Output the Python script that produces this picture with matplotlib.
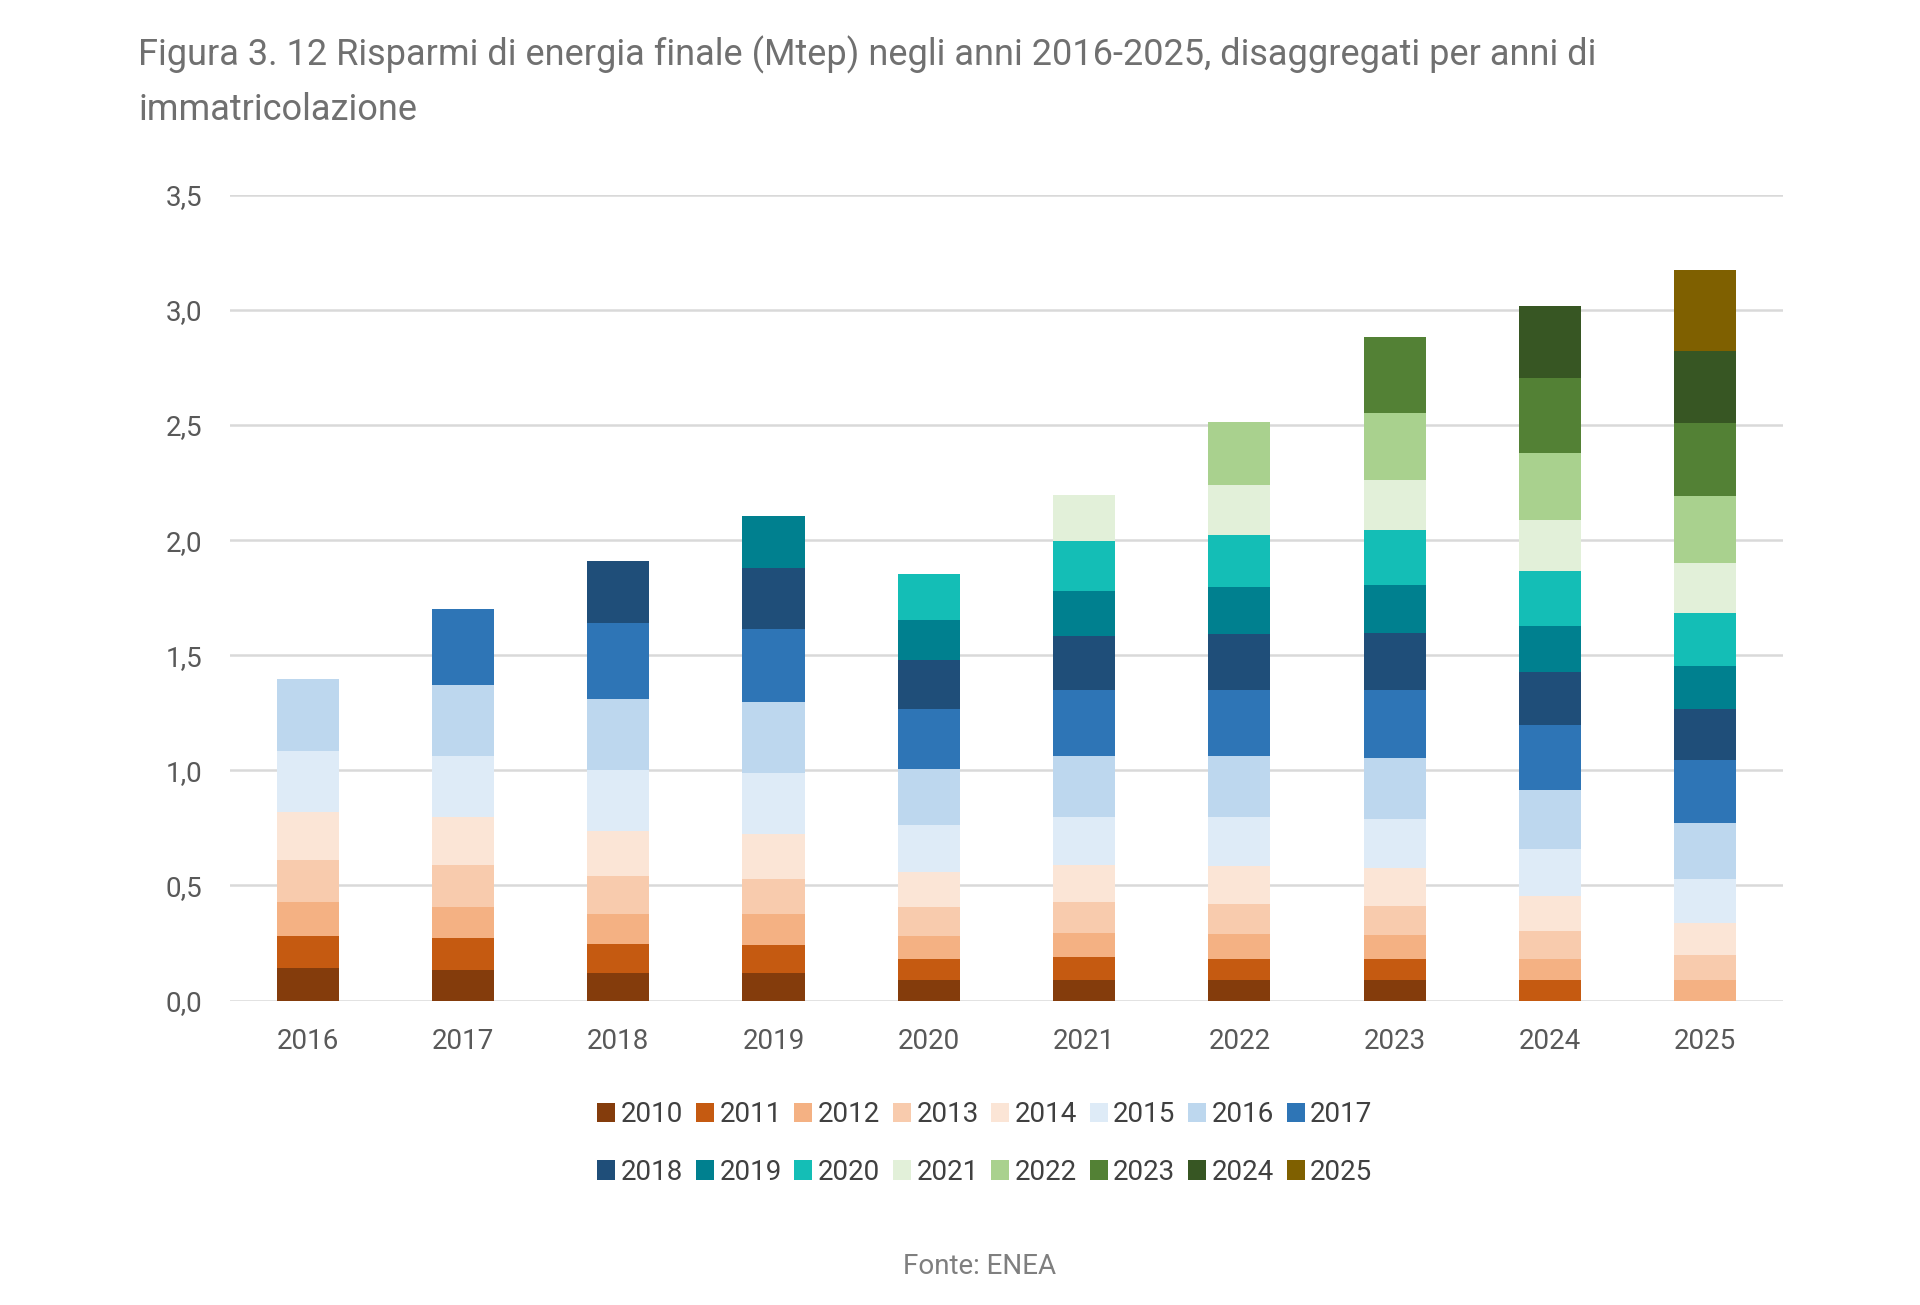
import numpy as np
import matplotlib.pyplot as plt

plt.rcParams['font.family'] = ['Roboto', 'DejaVu Sans']

# Years of savings (x axis)
years = ['2016', '2017', '2018', '2019', '2020', '2021', '2022', '2023', '2024', '2025']

# Savings (Mtep) by registration year, one list per cohort
v2010 = [0.140, 0.133, 0.121, 0.118, 0.089, 0.089, 0.089, 0.089, 0.0, 0.0]
v2011 = [0.142, 0.137, 0.123, 0.123, 0.092, 0.102, 0.092, 0.092, 0.089, 0.0]
v2012 = [0.148, 0.138, 0.130, 0.133, 0.101, 0.101, 0.109, 0.104, 0.092, 0.089]
v2013 = [0.181, 0.179, 0.167, 0.155, 0.124, 0.135, 0.128, 0.125, 0.121, 0.109]
v2014 = [0.207, 0.210, 0.195, 0.195, 0.152, 0.160, 0.166, 0.167, 0.150, 0.138]
v2015 = [0.266, 0.263, 0.264, 0.263, 0.203, 0.212, 0.213, 0.212, 0.205, 0.193]
v2016 = [0.311, 0.311, 0.311, 0.309, 0.246, 0.261, 0.263, 0.266, 0.256, 0.244]
v2017 = [0.0, 0.329, 0.328, 0.319, 0.261, 0.287, 0.287, 0.292, 0.282, 0.270]
v2018 = [0.0, 0.0, 0.268, 0.263, 0.210, 0.237, 0.246, 0.251, 0.232, 0.225]
v2019 = [0.0, 0.0, 0.0, 0.225, 0.173, 0.193, 0.203, 0.208, 0.200, 0.186]
v2020 = [0.0, 0.0, 0.0, 0.0, 0.201, 0.217, 0.227, 0.239, 0.239, 0.229]
v2021 = [0.0, 0.0, 0.0, 0.0, 0.0, 0.201, 0.215, 0.217, 0.220, 0.217]
v2022 = [0.0, 0.0, 0.0, 0.0, 0.0, 0.0, 0.273, 0.288, 0.290, 0.290]
v2023 = [0.0, 0.0, 0.0, 0.0, 0.0, 0.0, 0.0, 0.330, 0.326, 0.319]
v2024 = [0.0, 0.0, 0.0, 0.0, 0.0, 0.0, 0.0, 0.0, 0.314, 0.314]
v2025 = [0.0, 0.0, 0.0, 0.0, 0.0, 0.0, 0.0, 0.0, 0.0, 0.350]

cohorts = ['2010', '2011', '2012', '2013', '2014', '2015', '2016', '2017',
           '2018', '2019', '2020', '2021', '2022', '2023', '2024', '2025']
series = [v2010, v2011, v2012, v2013, v2014, v2015, v2016, v2017,
          v2018, v2019, v2020, v2021, v2022, v2023, v2024, v2025]
colors = ['#843C0C', '#C55A11', '#F4B183', '#F8CBAD', '#FBE5D6', '#DEEBF7',
          '#BDD7EE', '#2E75B6', '#1F4E79', '#00808F', '#14BEB6', '#E2F0D9',
          '#A9D18E', '#538135', '#375623', '#7F6000']

fig = plt.figure(figsize=(19.2, 13.05), dpi=100)
ax = fig.add_axes([0.1198, 0.2333, 0.8088, 0.6175])

x = np.arange(len(years))
bottom = np.zeros(len(years))
for name, vals, col in zip(cohorts, series, colors):
    vals = np.array(vals)
    ax.bar(x, vals, 0.40, bottom=bottom, color=col, label=name, linewidth=0)
    bottom += vals

ax.set_xlim(-0.5, 9.5)
ax.set_ylim(0, 3.5)
ax.set_yticks(np.arange(0, 3.51, 0.5))
ax.set_yticklabels([f'{v:.1f}'.replace('.', ',') for v in np.arange(0, 3.51, 0.5)])
ax.set_xticks(x)
ax.set_xticklabels(years)
ax.grid(axis='y', color='#D9D9D9', linewidth=1.8)
ax.set_axisbelow(True)
for s in ax.spines.values():
    s.set_visible(False)
ax.tick_params(axis='both', length=0, labelsize=20, labelcolor='#595959')
ax.tick_params(axis='y', pad=20)
ax.tick_params(axis='x', pad=20)

fig.text(0.072, 0.958, 'Figura 3. 12 Risparmi di energia finale (Mtep) negli anni 2016-2025, disaggregati per anni di',
         fontsize=26, color='#707070', va='center', ha='left')
fig.text(0.072, 0.916, 'immatricolazione', fontsize=26, color='#707070', va='center', ha='left')

# legend filled row by row (matplotlib fills columns first)
handles, labels = ax.get_legend_handles_labels()
order = [i + r * 8 for i in range(8) for r in range(2)]
fig.legend([handles[i] for i in order], [labels[i] for i in order],
           loc='upper center', bbox_to_anchor=(0.513, 1 - 1076 / 1305), ncol=8, frameon=False,
           fontsize=20, handlelength=0.65, handleheight=0.7, handletextpad=0.2,
           columnspacing=0.45, labelspacing=1.1, labelcolor='#404040')

fig.text(0.51, 1 - 1267 / 1305, 'Fonte: ENEA', fontsize=20, color='#7F7F7F', ha='center', va='center')

fig.savefig('out.png', dpi=100)
